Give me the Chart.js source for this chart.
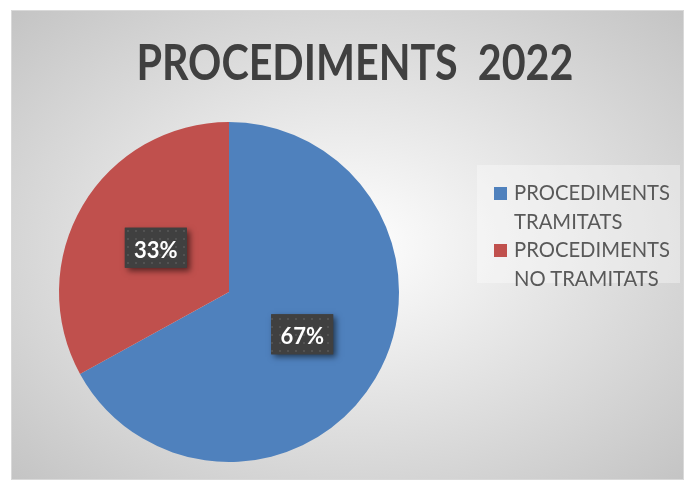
<!DOCTYPE html>
<html>
<head>
<meta charset="utf-8">
<title>Procediments 2022</title>
<script src="https://cdn.jsdelivr.net/npm/chart.js@4.4.1/dist/chart.umd.min.js"></script>
<style>
  html, body { margin: 0; padding: 0; background: #ffffff; }
  body { width: 684px; height: 481px; position: relative; overflow: hidden; font-family: Lato, "Open Sans", sans-serif; }
  #frame {
    position: absolute; left: 11px; top: 10px; width: 673px; height: 470px;
    box-sizing: border-box; border: 1px solid #d9d9d9;
    background: radial-gradient(ellipse farthest-corner at 50% 50%, #ffffff 0%, #c4c4c4 100%);
  }
  #chart { position: absolute; left: 0; top: 0; }
  #title {
    position: absolute; left: 0; top: 25px; width: 685px; text-align: center;
    font-weight: bold; font-size: 50px; line-height: 50px; color: #404040; white-space: pre;
  }
  #title span { display: inline-block; transform-origin: 50% 50%; }
  #legend {
    position: absolute; left: 465px; top: 154px; width: 203px; height: 118px;
    background: rgba(255, 255, 255, 0.35);
  }
  .item {
    position: absolute; left: 37px; font-size: 22px; line-height: 28.5px; color: #595959;
    white-space: nowrap; transform-origin: 0 0;
  }
  .swatch { position: absolute; left: 17px; width: 13px; height: 13px; }
</style>
</head>
<body>
<div id="frame">
  <canvas id="chart" width="671" height="468"></canvas>
  <div id="title"><span></span></div>
  <div id="legend"></div>
</div>
<script>
// --- DATA ---
const chartTitle = 'PROCEDIMENTS  2022';
const categories = [
    ['PROCEDIMENTS', 'TRAMITATS'],
    ['PROCEDIMENTS', 'NO TRAMITATS']
];
const values = [67, 33];
const sliceColors = ['#4f81bd', '#c0504d'];

// squeeze a text element horizontally so it spans the given width
function fitWidth(el, target) {
    const w = el.getBoundingClientRect().width;
    if (w > 0) el.style.transform = 'scaleX(' + (target / w) + ')';
}

const titleSpan = document.querySelector('#title span');
titleSpan.textContent = chartTitle;
fitWidth(titleSpan, 437);

// dotted dark fill used behind the percentage labels
function makeLabelPattern(ctx) {
    const tile = document.createElement('canvas');
    tile.width = 8;
    tile.height = 8;
    const t = tile.getContext('2d');
    t.fillStyle = '#404040';
    t.fillRect(0, 0, 8, 8);
    t.fillStyle = '#525252';
    t.fillRect(3, 3, 2, 2);
    return ctx.createPattern(tile, 'repeat');
}

// --- PERCENT LABELS ON SLICES ---
const percentLabels = {
    id: 'percentLabels',
    afterDatasetsDraw(chart) {
        const ctx = chart.ctx;
        const meta = chart.getDatasetMeta(0);
        const data = chart.data.datasets[0].data;
        const total = data.reduce((a, b) => a + b, 0);
        const pattern = makeLabelPattern(ctx);
        const boxW = 62, boxH = 40;

        meta.data.forEach((arc, i) => {
            const pos = arc.tooltipPosition();
            const text = Math.round(data[i] / total * 100) + '%';
            const x = pos.x - boxW / 2;
            const y = pos.y - boxH / 2 - 1;

            ctx.save();
            ctx.shadowColor = 'rgba(0, 0, 0, 0.55)';
            ctx.shadowBlur = 6;
            ctx.shadowOffsetX = 3;
            ctx.shadowOffsetY = 3;
            ctx.fillStyle = '#404040';
            ctx.fillRect(x, y, boxW, boxH);
            ctx.restore();

            ctx.save();
            ctx.fillStyle = pattern;
            ctx.fillRect(x, y, boxW, boxH);
            ctx.fillStyle = '#ffffff';
            ctx.font = 'bold 22px Lato, "Open Sans", sans-serif';
            ctx.textAlign = 'center';
            ctx.textBaseline = 'middle';
            ctx.fillText(text, pos.x, pos.y + 2);
            ctx.restore();
        });
    }
};

const ctx = document.getElementById('chart').getContext('2d');
const pieChart = new Chart(ctx, {
    type: 'pie',
    data: {
        labels: categories,
        datasets: [{
            data: values,
            backgroundColor: sliceColors,
            borderWidth: 0
        }]
    },
    options: {
        responsive: false,
        animation: false,
        layout: {
            padding: { left: 47, right: 284, top: 111, bottom: 17 }
        },
        plugins: {
            legend: { display: false },
            title: { display: false },
            tooltip: { enabled: false }
        }
    },
    plugins: [percentLabels]
});

// --- LEGEND (built from the chart's own labels and colours) ---
const legendEl = document.getElementById('legend');
let lineTop = 13;
pieChart.data.labels.forEach((lines, i) => {
    const swatch = document.createElement('div');
    swatch.className = 'swatch';
    swatch.style.top = (lineTop + 9) + 'px';
    swatch.style.background = pieChart.data.datasets[0].backgroundColor[i];
    legendEl.appendChild(swatch);

    const item = document.createElement('div');
    item.className = 'item';
    item.style.top = lineTop + 'px';
    item.innerHTML = lines.join('<br>');
    legendEl.appendChild(item);
    fitWidth(item, lines[0] === 'PROCEDIMENTS' ? 156 : 150);
    lineTop += lines.length * 28.5;
});
</script>
</body>
</html>
